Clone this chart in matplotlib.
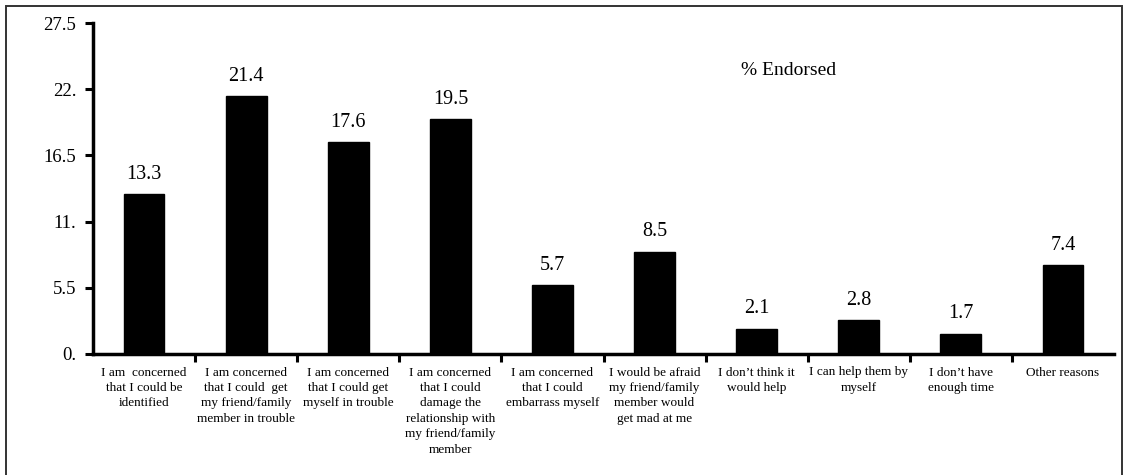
import matplotlib
matplotlib.use("Agg")
import matplotlib.pyplot as plt
from matplotlib.patches import Rectangle
import numpy as np

plt.rcParams["font.family"] = ["Liberation Serif", "DejaVu Serif"]

# ── Data ──────────────────────────────────────────────────────────────────────
reasons = [
    "I am  concerned\nthat I could be\nidentified",
    "I am concerned\nthat I could  get\nmy friend/family\nmember in trouble",
    "I am concerned\nthat I could get\nmyself in trouble",
    "I am concerned\nthat I could\ndamage the\nrelationship with\nmy friend/family\nmember",
    "I am concerned\nthat I could\nembarrass myself",
    "I would be afraid\nmy friend/family\nmember would\nget mad at me",
    "I don\u2019t think it\nwould help",
    "I can help them by\nmyself",
    "I don\u2019t have\nenough time",
    "Other reasons",
]
endorsed = [13.3, 21.4, 17.6, 19.5, 5.7, 8.5, 2.1, 2.8, 1.7, 7.4]
y_ticks = [0, 5.5, 11, 16.5, 22, 27.5]
y_tick_labels = ["0.", "5.5", "11.", "16.5", "22.", "27.5"]

# ── Figure ────────────────────────────────────────────────────────────────────
W, H = 1124, 475
fig = plt.figure(figsize=(W / 100, H / 100), dpi=100)
ax = fig.add_axes([93 / W, 121 / H, (1114 - 93) / W, (354 - 23) / H])

# outer frame around the chart
fig.patches.append(Rectangle((6 / W, -0.05), (1122 - 6) / W, 1.05 - 6 / H,
                             transform=fig.transFigure, fill=False,
                             edgecolor="#333333", lw=1.4))

x = np.arange(len(endorsed))
ax.bar(x, endorsed, width=0.4, color="black", edgecolor="black")

for xi, v in zip(x, endorsed):
    ax.text(xi, v + 1.65, f"{v}", ha="center", va="center", fontsize=14.5)

ax.set_xlim(-0.5, len(endorsed) - 0.5)
ax.set_ylim(0, 27.5)

ax.set_yticks(y_ticks)
ax.set_yticklabels(y_tick_labels, fontsize=13.5)
ax.tick_params(axis="y", direction="out", length=6, width=2.2, pad=6)

# boundary ticks between categories, labels centred under each bar
ax.set_xticks(np.arange(len(endorsed) - 1) + 0.5)
ax.set_xticklabels([])
ax.tick_params(axis="x", which="major", direction="out", length=6, width=2.2)
ax.set_xticks(x, minor=True)
ax.set_xticklabels(reasons, minor=True, fontsize=9.5, linespacing=1.38)
ax.tick_params(axis="x", which="minor", length=0, pad=9)

for side in ("top", "right"):
    ax.spines[side].set_visible(False)
for side in ("left", "bottom"):
    ax.spines[side].set_linewidth(2.5)

ax.text(0.681, 0.858, "% Endorsed", transform=ax.transAxes,
        ha="center", va="center", fontsize=14)

fig.savefig("out.png", dpi=100)
plt.close(fig)
